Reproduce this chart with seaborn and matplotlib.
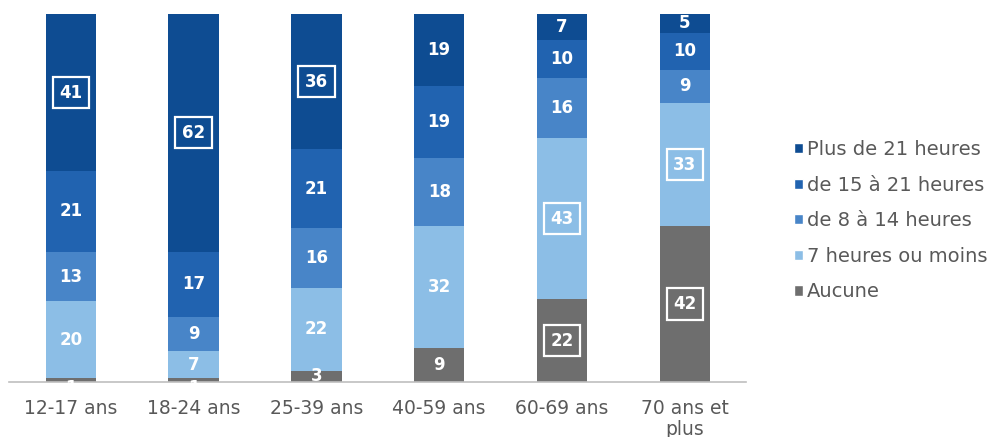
import numpy as np
import pandas as pd
import seaborn as sns
import matplotlib.pyplot as plt
from matplotlib.patches import Patch

# categories (bottom of the x axis)
age_groups = ['12-17 ans', '18-24 ans', '25-39 ans', '40-59 ans', '60-69 ans', '70 ans et\nplus']

# series, listed from the top of the stack to the bottom (legend order)
series_names = ['Plus de 21 heures', 'de 15 à 21 heures', 'de 8 à 14 heures',
                '7 heures ou moins', 'Aucune']
plus_21 = [41, 62, 36, 19, 7, 5]
h15_21 = [21, 17, 21, 19, 10, 10]
h8_14 = [13, 9, 16, 18, 16, 9]
h7_moins = [20, 7, 22, 32, 43, 33]
aucune = [1, 1, 3, 9, 22, 42]

# which labels get a white frame (series index, category index)
boxed = [(0, 0), (0, 1), (0, 2), (3, 4), (4, 4), (3, 5), (4, 5)]

colors = ['#0e4c92', '#2163b0', '#4885c8', '#8cbee6', '#6e6e6e']

values = [plus_21, h15_21, h8_14, h7_moins, aucune]
df = pd.DataFrame(values, index=series_names, columns=age_groups).T
shares = df.div(df.sum(axis=1), axis=0)  # every bar runs to 100 %

sns.set_style('white')
plt.rcParams['font.family'] = ['DejaVu Sans']

fig = plt.figure(figsize=(9.89, 4.37), dpi=100)
ax = fig.add_axes([0.0095, 0.126, 0.745, 0.842])

# stack from the bottom up (Aucune first)
bottom = np.zeros(len(age_groups))
for s in reversed(range(len(series_names))):
    name = series_names[s]
    sns.barplot(x=age_groups, y=shares[name].values, bottom=bottom,
                color=colors[s], width=0.41, ax=ax, saturation=1,
                linewidth=0)
    cont = ax.containers[-1]
    texts = ax.bar_label(cont, labels=[str(v) for v in df[name]],
                         label_type='center', color='white',
                         fontsize=12, fontweight='bold')
    for c, t in enumerate(texts):
        if (s, c) in boxed:
            t.set_bbox(dict(boxstyle='square,pad=0.4', facecolor='none',
                            edgecolor='white', linewidth=1.6))
        if df[name].iloc[c] <= 1:
            # tiny segment: the label sinks under the axis line, as in the source
            t.xyann = (0, -6)
            t.set_clip_on(True)
    bottom = bottom + shares[name].values

ax.set_xlim(-0.5, len(age_groups) - 0.5)
ax.set_ylim(0, 1)
ax.set_yticks([])
ax.set_xlabel('')
ax.set_ylabel('')
for side in ['top', 'right', 'left']:
    ax.spines[side].set_visible(False)
ax.spines['bottom'].set_color('#bfbfbf')
ax.spines['bottom'].set_linewidth(1.2)
ax.tick_params(axis='x', length=0, pad=12, labelsize=13.5, labelcolor='#595959')
for lab in ax.get_xticklabels():
    lab.set_linespacing(1.15)

handles = [Patch(facecolor=colors[i], label=series_names[i]) for i in range(len(series_names))]
fig.legend(handles=handles, loc='center left', bbox_to_anchor=(0.803, 0.495),
           frameon=False, fontsize=14, labelcolor='#595959',
           handlelength=0.45, handleheight=0.45, handletextpad=0.2,
           labelspacing=0.85, borderaxespad=0, borderpad=0)

plt.savefig('out.png', dpi=100)
plt.close()
